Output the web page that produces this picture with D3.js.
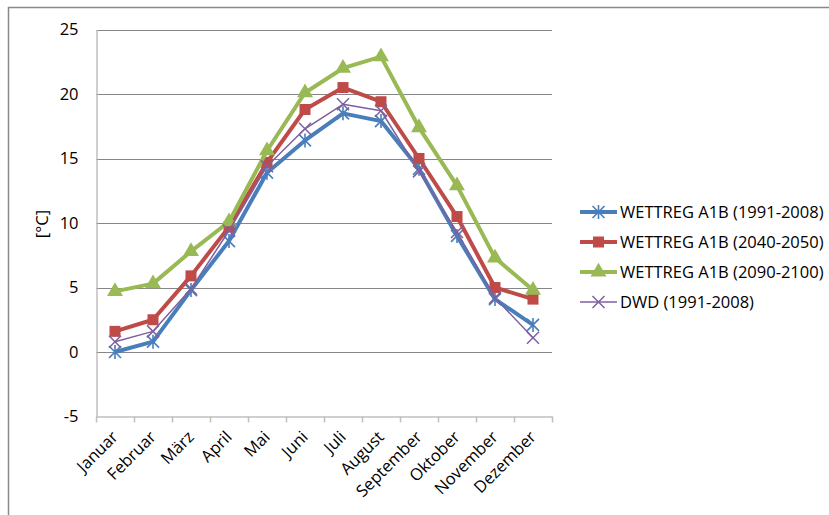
<!DOCTYPE html>
<html><head><meta charset="utf-8">
<script src="https://cdn.jsdelivr.net/npm/d3@7"></script>
<style>body{margin:0;background:#fff}svg{display:block}text{font-family:"Open Sans",sans-serif;fill:#000}</style>
</head><body><svg id="c" width="829" height="515"></svg>
<script>
const months = ["Januar","Februar","März","April","Mai","Juni","Juli","August","September","Oktober","November","Dezember"];
const wettreg1991 = [0.0, 0.8, 4.8, 8.6, 13.9, 16.4, 18.5, 17.9, 14.2, 9.0, 4.1, 2.1];
const wettreg2040 = [1.6, 2.5, 5.9, 9.7, 14.7, 18.8, 20.5, 19.4, 15.0, 10.5, 5.0, 4.1];
const wettreg2090 = [4.7, 5.3, 7.8, 10.1, 15.6, 20.1, 22.0, 22.9, 17.4, 12.9, 7.3, 4.8];
const dwd = [0.8, 1.6, 4.9, 9.4, 14.4, 17.3, 19.2, 18.7, 14.0, 9.3, 4.2, 1.1];
const yTicks = [-5, 0, 5, 10, 15, 20, 25];
const seriesNames = ["WETTREG A1B (1991-2008)","WETTREG A1B (2040-2050)","WETTREG A1B (2090-2100)","DWD (1991-2008)"];

const FS = "16.5px";
const series = [
  {name: seriesNames[0], values: wettreg1991, color: "#4A7EBB", width: 4, marker: "star"},
  {name: seriesNames[1], values: wettreg2040, color: "#BE4B48", width: 4, marker: "square"},
  {name: seriesNames[2], values: wettreg2090, color: "#98B954", width: 4, marker: "triangle"},
  {name: seriesNames[3], values: dwd, color: "#7D60A0", width: 1.5, marker: "x"}
];

const svg = d3.select("#c");
svg.append("rect").attr("x", 8.5).attr("y", 7.5).attr("width", 840).attr("height", 520)
  .attr("fill", "#fff").attr("stroke", "#898989").attr("stroke-width", 1.5);

const x = d3.scaleBand().domain(months).range([96, 552]);
const y = d3.scaleLinear().domain([-5, 25]).range([416.5, 29.5]);

// gridlines
svg.append("g").selectAll("line").data(yTicks.filter(d => d > -5)).join("line")
  .attr("x1", 96).attr("x2", 552).attr("y1", d => Math.round(y(d)) + 0.5).attr("y2", d => Math.round(y(d)) + 0.5)
  .attr("stroke", "#868686").attr("stroke-width", 1);

// y axis
const yAxis = d3.axisLeft(y).tickValues(yTicks).tickSize(0).tickPadding(18).tickFormat(d => String(d));
const gy = svg.append("g").attr("transform", "translate(96.5,0)").call(yAxis);
gy.select(".domain").attr("stroke", "#BFBFBF").attr("stroke-width", 1.5);
gy.selectAll("text").attr("font-size", FS).attr("font-family", "Open Sans");

// x axis
const xAxis = d3.axisBottom(x).tickSize(0).tickFormat("");
const gx = svg.append("g").attr("transform", "translate(0," + (y(-5)) + ")").call(xAxis);
gx.select(".domain").attr("stroke", "#BFBFBF").attr("stroke-width", 1.5);
const edges = months.map(m => x(m)).concat([x.range()[1]]);
gx.selectAll(".edge").data(edges).join("line").attr("class", "edge")
  .attr("x1", d => Math.round(d) + 0.5).attr("x2", d => Math.round(d) + 0.5).attr("y1", 0).attr("y2", 6)
  .attr("stroke", "#BFBFBF").attr("stroke-width", 1.5);
svg.append("g").selectAll("text").data(months).join("text")
  .attr("transform", d => "translate(" + (x(d) + x.bandwidth() / 2 + 4) + "," + 438 + ") rotate(-45)")
  .attr("text-anchor", "end").attr("font-size", FS).text(d => d);

// y label
svg.append("text").attr("transform", "translate(48,224) rotate(-90)").attr("text-anchor", "middle")
  .attr("font-size", FS).text("[°C]");

const cx = d => x(d) + x.bandwidth() / 2;
const line = d3.line().x((v, i) => cx(months[i])).y(v => y(v));

function drawMarker(g, type, color) {
  if (type === "square") {
    g.append("rect").attr("x", -5.5).attr("y", -5.5).attr("width", 11).attr("height", 11).attr("fill", color);
  } else if (type === "triangle") {
    g.append("path").attr("d", d3.symbol().type(d3.symbolTriangle).size(110)()).attr("fill", color);
  } else if (type === "star") {
    const r = 6;
    g.append("path").attr("d", `M${-r},${-r}L${r},${r}M${-r},${r}L${r},${-r}M0,${-r - 1}L0,${r + 1}`)
      .attr("stroke", color).attr("stroke-width", 1.6).attr("fill", "none");
  } else if (type === "x") {
    const r = 6;
    g.append("path").attr("d", `M${-r},${-r}L${r},${r}M${-r},${r}L${r},${-r}`)
      .attr("stroke", color).attr("stroke-width", 1.5).attr("fill", "none");
  }
}

series.forEach(s => {
  const g = svg.append("g");
  g.append("path").attr("d", line(s.values)).attr("fill", "none").attr("stroke", s.color)
    .attr("stroke-width", s.width).attr("stroke-linejoin", "round");
  s.values.forEach((v, i) => {
    const m = g.append("g").attr("transform", "translate(" + cx(months[i]) + "," + y(v) + ")");
    drawMarker(m, s.marker, s.color);
  });
});

// legend
series.forEach((s, i) => {
  const ly = 212 + i * 30;
  const g = svg.append("g").attr("transform", "translate(0," + ly + ")");
  g.append("line").attr("x1", 580).attr("x2", 617).attr("y1", 0).attr("y2", 0)
    .attr("stroke", s.color).attr("stroke-width", s.width);
  const m = g.append("g").attr("transform", "translate(598.5,0)");
  drawMarker(m, s.marker, s.color);
  g.append("text").attr("x", 620).attr("y", 0).attr("dy", "0.36em").attr("font-size", FS).text(s.name);
});
</script></body></html>
